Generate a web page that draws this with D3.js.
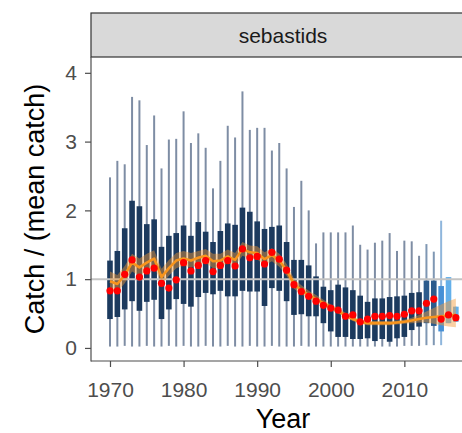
<!DOCTYPE html>
<html>
<head>
<meta charset="utf-8">
<script src="https://cdn.jsdelivr.net/npm/d3@7"></script>
<style>
  html, body { margin: 0; padding: 0; background: #ffffff; }
  svg { display: block; }
  text { font-family: "Liberation Sans", Arial, Helvetica, sans-serif; }
</style>
</head>
<body>
<svg id="chart" width="462" height="433"></svg>
<script>
// ---------------- data ----------------
const facetLabel = "sebastids";
const years = d3.range(1970, 2018);
const whiskerHi = [2.48,2.72,2.67,3.65,3.60,2.95,3.38,2.61,3.03,3.04,
                   3.44,2.98,3.12,2.91,2.32,2.72,3.23,3.06,3.73,3.17,
                   3.20,3.20,2.87,2.98,2.61,2.05,2.43,2.00,1.52,1.68,
                   1.68,1.68,1.68,1.78,1.50,1.43,1.53,1.56,1.67,1.41,
                   1.56,1.55,1.34,1.51,1.40,1.85,1.03,0.60];
const boxHi    = [1.27,1.41,1.74,2.14,2.06,1.80,1.87,1.47,1.63,1.67,
                  1.78,1.63,1.83,1.69,1.54,1.70,1.81,1.79,2.04,1.98,
                  1.84,1.73,1.76,1.78,1.54,1.28,1.28,1.20,1.04,0.89,
                  0.84,0.92,0.88,0.84,0.76,0.67,0.72,0.72,0.74,0.75,
                  0.76,0.80,0.81,0.98,0.98,0.90,1.03,0.60];
const boxLo    = [0.42,0.45,0.56,0.68,0.54,0.67,0.70,0.42,0.56,0.71,
                  0.64,0.60,0.74,0.80,0.78,0.83,0.75,0.75,0.83,0.82,
                  0.82,0.61,0.87,0.83,0.68,0.48,0.49,0.46,0.46,0.36,
                  0.24,0.16,0.16,0.13,0.13,0.14,0.10,0.13,0.09,0.14,
                  0.16,0.26,0.31,0.36,0.32,0.24,0.36,0.38];
const whiskerLo = [0.02,0.02,0.03,0.02,0.02,0.03,0.02,0.02,0.03,0.02,
                   0.03,0.02,0.02,0.03,0.02,0.02,0.03,0.02,0.02,0.03,
                   0.02,0.02,0.03,0.02,0.02,0.02,0.03,0.02,0.02,0.02,
                   0.02,0.02,0.02,0.02,0.02,0.02,0.02,0.02,0.02,0.02,
                   0.03,0.03,0.03,0.04,0.04,0.04,0.36,0.38];
const medianPts = [0.83,0.83,1.07,1.28,1.03,1.12,1.16,0.94,0.87,0.99,
                   1.24,1.12,1.20,1.27,1.11,1.20,1.27,1.19,1.44,1.31,
                   1.33,1.22,1.39,1.29,1.13,0.92,0.82,0.75,0.68,0.62,
                   0.58,0.55,0.46,0.48,0.38,0.42,0.46,0.46,0.47,0.46,
                   0.49,0.54,0.54,0.65,0.71,0.42,0.48,0.44];
const estimate  = [0.97,0.93,1.06,1.24,1.17,1.24,1.30,1.03,1.16,1.27,
                   1.30,1.27,1.31,1.34,1.26,1.27,1.33,1.28,1.44,1.39,
                   1.38,1.29,1.35,1.27,1.13,0.93,0.84,0.77,0.71,0.65,
                   0.59,0.54,0.47,0.42,0.38,0.36,0.36,0.36,0.36,0.37,
                   0.38,0.40,0.42,0.44,0.45,0.46,0.47,0.48];
const estLo     = [0.84,0.81,0.94,1.11,1.05,1.12,1.19,0.92,1.05,1.16,
                   1.20,1.17,1.21,1.24,1.16,1.17,1.23,1.19,1.34,1.30,
                   1.29,1.20,1.26,1.18,1.05,0.86,0.78,0.72,0.66,0.61,
                   0.55,0.50,0.44,0.39,0.35,0.33,0.33,0.33,0.33,0.34,
                   0.35,0.36,0.37,0.37,0.35,0.33,0.31,0.30];
const estHi     = [1.11,1.06,1.19,1.37,1.30,1.37,1.42,1.15,1.28,1.38,
                   1.41,1.38,1.41,1.44,1.37,1.37,1.43,1.38,1.54,1.49,
                   1.48,1.39,1.45,1.37,1.22,1.01,0.91,0.83,0.77,0.70,
                   0.63,0.58,0.51,0.46,0.41,0.39,0.39,0.39,0.39,0.40,
                   0.41,0.44,0.48,0.53,0.58,0.63,0.68,0.72];
// box colour group: 0 = observed, 1 = recent, 2 = newest, 3 = latest
const boxGroup  = [0,0,0,0,0,0,0,0,0,0, 0,0,0,0,0,0,0,0,0,0,
                   0,0,0,0,0,0,0,0,0,0, 0,0,0,0,0,0,0,0,0,0,
                   0,0,0,1,1,2,3,3];
const xTicks = [1970, 1980, 1990, 2000, 2010];
const yTicks = [0, 1, 2, 3, 4];

// ---------------- layout ----------------
const svg = d3.select("#chart");
const panel = {left: 91, right: 475, top: 57, bottom: 361};
const strip = {top: 13, bottom: 57};

const x = d3.scaleLinear().domain([1967.42, 2019.6]).range([panel.left, panel.right]);
const y = d3.scaleLinear().domain([-0.19, 4.23]).range([panel.bottom, panel.top]);

const boxFill = ["#1c3a5e", "#2c5b8c", "#4690d6", "#64b0ea"];
const whiskerCol = ["#7e8da4", "#7f97b3", "#8fb6dc", "#9cc6ec"];
const boxW = 5.6;

const data = years.map((yr, i) => ({
  yr, wHi: whiskerHi[i], wLo: whiskerLo[i], bHi: boxHi[i], bLo: boxLo[i],
  med: medianPts[i], est: estimate[i], lo: estLo[i], hi: estHi[i], g: boxGroup[i]
}));

svg.append("defs").append("clipPath").attr("id", "pclip")
  .append("rect").attr("x", panel.left).attr("y", panel.top)
  .attr("width", panel.right - panel.left).attr("height", panel.bottom - panel.top);

const g = svg.append("g").attr("clip-path", "url(#pclip)");

g.selectAll("line.whisker").data(data).join("line")
  .attr("class", "whisker")
  .attr("x1", d => x(d.yr)).attr("x2", d => x(d.yr))
  .attr("y1", d => y(d.wLo)).attr("y2", d => y(d.wHi))
  .attr("stroke", d => whiskerCol[d.g]).attr("stroke-width", 2);

g.selectAll("rect.box").data(data).join("rect")
  .attr("class", "box")
  .attr("x", d => x(d.yr) - boxW / 2).attr("width", boxW)
  .attr("y", d => y(d.bHi)).attr("height", d => y(d.bLo) - y(d.bHi))
  .attr("fill", d => boxFill[d.g]);

g.append("line")
  .attr("x1", panel.left).attr("x2", panel.right)
  .attr("y1", y(1)).attr("y2", y(1))
  .attr("stroke", "#c4c4c4").attr("stroke-width", 2);

g.append("path").datum(data)
  .attr("d", d3.area().x(d => x(d.yr)).y0(d => y(d.lo)).y1(d => y(d.hi)))
  .attr("fill", "#f59a36").attr("fill-opacity", 0.45);

g.append("path").datum(data)
  .attr("d", d3.line().x(d => x(d.yr)).y(d => y(d.est)))
  .attr("fill", "none").attr("stroke", "#f7941d").attr("stroke-width", 2.6)
  .attr("stroke-linejoin", "round");

g.selectAll("circle.pt").data(data).join("circle")
  .attr("class", "pt")
  .attr("cx", d => x(d.yr)).attr("cy", d => y(d.med)).attr("r", 3.6)
  .attr("fill", "#ff0000");

// ---------------- strip ----------------
svg.append("rect")
  .attr("x", panel.left).attr("y", strip.top)
  .attr("width", panel.right - panel.left + 5).attr("height", strip.bottom - strip.top)
  .attr("fill", "#d9d9d9").attr("stroke", "#333333").attr("stroke-width", 1.2);
svg.append("text")
  .attr("x", (panel.left + panel.right) / 2).attr("y", (strip.top + strip.bottom) / 2)
  .attr("text-anchor", "middle").attr("dominant-baseline", "central")
  .attr("font-size", 21).attr("fill", "#1a1a1a").text(facetLabel);

// ---------------- axes ----------------
const axCol = "#4d4d4d";
const yAxis = svg.append("g").attr("transform", `translate(${panel.left},0)`)
  .call(d3.axisLeft(y).tickValues(yTicks).tickFormat(d3.format("d")).tickSize(6).tickPadding(8).tickSizeOuter(0));
const xAxis = svg.append("g").attr("transform", `translate(0,${panel.bottom})`)
  .call(d3.axisBottom(x).tickValues(xTicks).tickFormat(d3.format("d")).tickSize(6).tickPadding(15).tickSizeOuter(0));
[yAxis, xAxis].forEach(a => {
  a.select(".domain").remove();
  a.selectAll(".tick line").attr("stroke", axCol).attr("stroke-width", 1.2);
  a.selectAll(".tick text").attr("fill", axCol).attr("font-size", 21)
    .attr("font-family", "'Liberation Sans', Arial, Helvetica, sans-serif");
});
svg.append("line").attr("x1", panel.left).attr("x2", panel.left)
  .attr("y1", panel.top).attr("y2", panel.bottom + 0.5)
  .attr("stroke", axCol).attr("stroke-width", 1.2);
svg.append("line").attr("x1", panel.left).attr("x2", panel.right)
  .attr("y1", panel.bottom).attr("y2", panel.bottom)
  .attr("stroke", axCol).attr("stroke-width", 1.2);

svg.append("text")
  .attr("x", (panel.left + panel.right) / 2).attr("y", 428)
  .attr("text-anchor", "middle").attr("font-size", 27).attr("fill", "#000")
  .text("Year");
svg.append("text")
  .attr("transform", `translate(44,${(panel.top + panel.bottom) / 2}) rotate(-90)`)
  .attr("text-anchor", "middle").attr("font-size", 27).attr("fill", "#000")
  .text("Catch / (mean catch)");
</script>
</body>
</html>
